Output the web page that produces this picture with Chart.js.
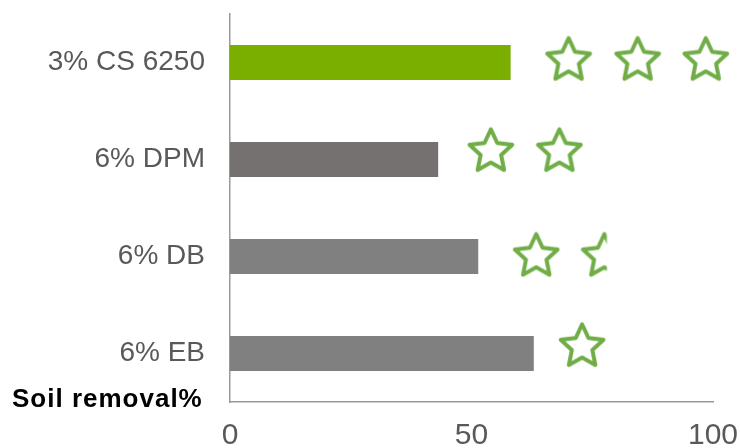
<!DOCTYPE html>
<html>
<head>
<meta charset="utf-8">
<script src="https://cdn.jsdelivr.net/npm/chart.js@4/dist/chart.umd.min.js"></script>
<style>
  html, body { margin: 0; padding: 0; background: #fff; }
  canvas { display: block; }
</style>
</head>
<body>
<canvas id="grafico" width="740" height="448"></canvas>
<script>
const categorias = ['3% CS 6250', '6% DPM', '6% DB', '6% EB'];
const remocion = [58.1, 43.1, 51.4, 62.9];
const coloresBarra = ['#7aaf00', '#767171', '#808080', '#808080'];
const ticksX = [0, 50, 100];

// estrellas (valor en eje x) por fila
const estrellasX = [[70.1, 84.4, 98.5], [54.0, 68.2], [63.4], [72.9]];
const estrellaCortadaX = [[], [], [77.5], []];
const filaEstrella = [-0.02, 0.92, 2.0, 2.93];

const tituloEje = 'Soil removal%';

(function(){

  function dibujarEstrella(cortada) {
    const c = document.createElement('canvas');
    c.width = 56; c.height = 56;
    const g = c.getContext('2d');
    const cx = 28, cy = 28, R = 22.5, r = R * 0.48;
    if (cortada) {
      g.beginPath();
      g.rect(0, 0, cx + 2.5, 56);
      g.clip();
    }
    g.beginPath();
    for (let i = 0; i < 10; i++) {
      const rad = (i % 2 === 0) ? R : r;
      const ang = -Math.PI / 2 + i * Math.PI / 5;
      const px = cx + rad * Math.cos(ang);
      const py = cy + rad * Math.sin(ang);
      if (i === 0) g.moveTo(px, py); else g.lineTo(px, py);
    }
    g.closePath();
    g.lineWidth = 4;
    g.lineJoin = 'round';
    g.strokeStyle = '#70ad47';
    g.stroke();
    return c;
  }

  const estrella = dibujarEstrella(false);
  const estrellaMedia = dibujarEstrella(true);

  const puntos = [];
  const puntosCortados = [];
  estrellasX.forEach((fila, i) => fila.forEach(x => puntos.push({ x: x, y: filaEstrella[i] })));
  estrellaCortadaX.forEach((fila, i) => fila.forEach(x => puntosCortados.push({ x: x, y: filaEstrella[i] })));

  const tituloPlugin = {
    id: 'tituloEje',
    afterDraw(chart) {
      const ctx = chart.ctx;
      ctx.save();
      ctx.font = 'bold 26px "Liberation Sans", Arial, sans-serif';
      ctx.letterSpacing = '1px';
      ctx.fillStyle = '#000000';
      ctx.textAlign = 'left';
      ctx.textBaseline = 'alphabetic';
      ctx.fillText(tituloEje, 12, 407);
      ctx.restore();
    }
  };

  new Chart(document.getElementById('grafico'), {
    type: 'bar',
    data: {
      labels: categorias,
      datasets: [{
        data: remocion,
        backgroundColor: coloresBarra,
        barPercentage: 0.36,
        categoryPercentage: 1,
        grouped: false,
        order: 2
      }, {
        type: 'scatter',
        data: puntos,
        yAxisID: 'y2',
        pointStyle: estrella,
        pointRadius: 12,
        clip: false,
        order: 1
      }, {
        type: 'scatter',
        data: puntosCortados,
        yAxisID: 'y2',
        pointStyle: estrellaMedia,
        pointRadius: 12,
        clip: false,
        order: 1
      }]
    },
    options: {
      indexAxis: 'y',
      responsive: false,
      animation: false,
      layout: { padding: { top: 14, right: 27, left: 0, bottom: 0 } },
      scales: {
        x: {
          type: 'linear',
          min: 0,
          max: 100,
          afterBuildTicks: s => { s.ticks = ticksX.map(v => ({ value: v })); },
          afterFit: s => { s.height = 46; s.paddingLeft = 0; s.paddingRight = 0; },
          grid: { display: false, drawTicks: false },
          border: { display: true, color: '#999999', width: 1.5 },
          ticks: {
            padding: 16,
            color: '#595959',
            font: { family: '"Liberation Sans", Arial, sans-serif', size: 30 }
          }
        },
        y: {
          type: 'category',
          afterFit: s => { s.width = 230; s.paddingTop = 0; s.paddingBottom = 0; },
          grid: { display: false, drawTicks: false },
          border: { display: true, color: '#999999', width: 1.5 },
          ticks: {
            padding: 25,
            color: '#595959',
            font: { family: '"Liberation Sans", Arial, sans-serif', size: 28 }
          }
        },
        y2: {
          type: 'linear',
          display: false,
          offset: false,
          reverse: true,
          min: -0.5,
          max: 3.5
        }
      },
      plugins: {
        legend: { display: false },
        tooltip: { enabled: false }
      }
    },
    plugins: [tituloPlugin]
  });

})();
</script>
</body>
</html>
